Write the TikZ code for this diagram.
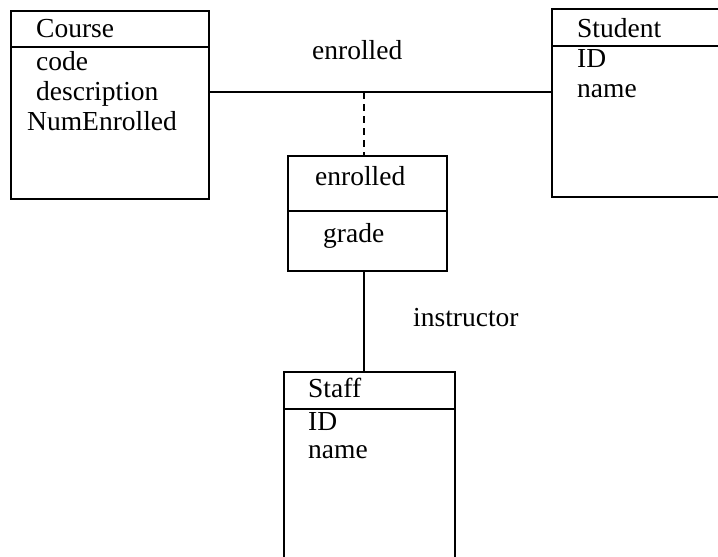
\documentclass[tikz,border=0pt]{standalone}
\usepackage{fontspec}
\setmainfont{Liberation Serif}
\begin{document}
\begin{tikzpicture}[x=1pt,y=-1pt,
  box/.style={draw,line width=1.8pt,anchor=north west,inner sep=0pt},
  txt/.style={anchor=base west,inner sep=0pt,font=\fontsize{27.5}{32}\selectfont},
  conn/.style={line width=1.8pt}]
\useasboundingbox (0,0) rectangle (718,557);
\clip (0,0) rectangle (718,557);
% Course
\node[box,minimum width=198pt,minimum height=188pt] (course) at (10,10) {};
\draw[conn] (course.west |- 0,47) -- (course.east |- 0,47);
\node[txt] (c1) at (36,37) {Course};
\node[txt] (c2) at (36,70) {code};
\node[txt] (c3) at (36,100) {description};
\node[txt] (c4) at (27,130) {NumEnrolled};
% Student
\node[box,minimum width=220pt,minimum height=188pt] (student) at (551,8) {};
\draw[conn] (student.west |- 0,46) -- (student.east |- 0,46);
\node[txt] (s1) at (577,37) {Student};
\node[txt] (s2) at (577,67) {ID};
\node[txt] (s3) at (577,97) {name};
% association class
\node[box,minimum width=159pt,minimum height=115pt] (assoc) at (287,155) {};
\draw[conn] (assoc.west |- 0,211) -- (assoc.east |- 0,211);
\node[txt] (a1) at (315,185) {enrolled};
\node[txt] (a2) at (323,242) {grade};
% Staff
\node[box,minimum width=171pt,minimum height=230pt] (staff) at (283,371) {};
\draw[conn] (staff.west |- 0,409) -- (staff.east |- 0,409);
\node[txt] (t1) at (308,397) {Staff};
\node[txt] (t2) at (308,430) {ID};
\node[txt] (t3) at (308,458) {name};
% connectors
\coordinate (j) at (364,92);
\draw[conn] (course.east |- j) -- (student.west |- j);
\draw[conn,dashed,dash pattern=on 7pt off 5pt] (j) -- (j |- assoc.north);
\draw[conn] (assoc.south -| j) -- (staff.north -| j);
\node[txt] (l1) at (312,59) {enrolled};
\node[txt] (l2) at (413,326) {instructor};
\end{tikzpicture}
\end{document}
